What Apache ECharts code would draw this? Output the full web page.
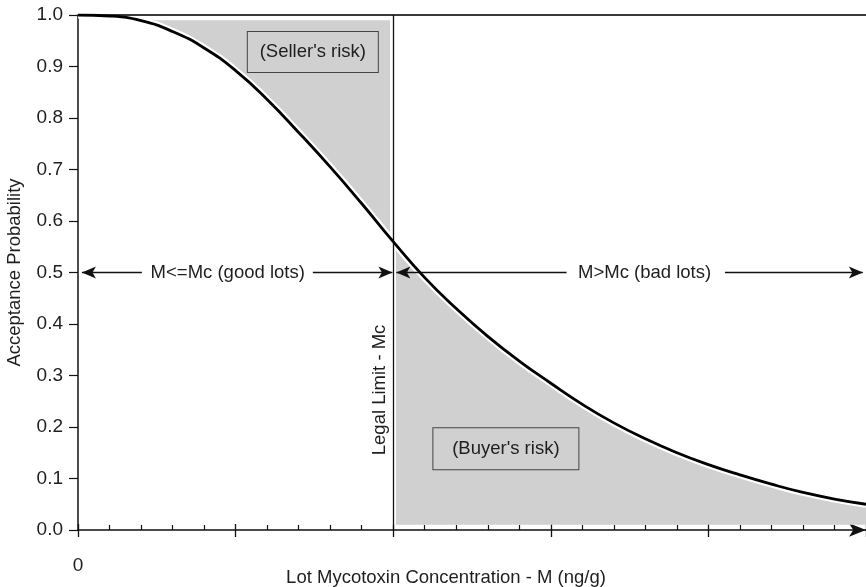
<!DOCTYPE html>
<html>
<head>
<meta charset="utf-8">
<script src="https://cdn.jsdelivr.net/npm/echarts@6/dist/echarts.min.js"></script>
<style>
html,body{margin:0;padding:0;background:#fff;}
#main{width:866px;height:587px;}
</style>
</head>
<body>
<div id="main"></div>
<script>
// ---- Data ----
const concentration = [0,4,8,12,16,20,24,28,32,36,40,44,48,52,56,60,64,68,72,76,80,84,88,92,96,100];
const acceptanceProb = [1.0,0.998,0.989,0.968,0.936,0.892,0.836,0.772,0.705,0.634,0.560,0.490,0.430,0.376,0.328,0.285,0.244,0.208,0.177,0.150,0.127,0.107,0.089,0.073,0.060,0.050];
const legalLimit = 40;
const sellerRange = [8, 40];
const buyerRange = [40, 100];
const sellerTop = 0.99;
const buyerBottom = 0.01;
const arrowLevel = 0.5;
const goodArrows = [[0.5, 8.1], [29.8, 39.9]];
const badArrows = [[40.4, 62.0], [82.1, 99.6]];
const yTickLabels = ['0.0','0.1','0.2','0.3','0.4','0.5','0.6','0.7','0.8','0.9','1.0'];
const xTickLabels = {0: '0'};
const texts = {
  good: 'M<=Mc (good lots)',
  bad: 'M>Mc (bad lots)',
  seller: "(Seller's risk)",
  buyer: "(Buyer's risk)",
  limit: 'Legal Limit - Mc',
  xName: 'Lot Mycotoxin Concentration - M (ng/g)',
  yName: 'Acceptance Probability'
};
const textPos = {good: [19.0, 0.5], bad: [71.9, 0.5], seller: [29.8, 0.928], buyer: [54.3, 0.158], limit: [38.25, 0.272]};

// ---- Build ----
const curve = concentration.map((x, i) => [x, acceptanceProb[i]]);
const sellerPts = curve.filter(p => p[0] >= sellerRange[0] && p[0] <= sellerRange[1]);
const buyerPts = curve.filter(p => p[0] >= buyerRange[0] && p[0] <= buyerRange[1]);
const FONT = "'Liberation Sans', Arial, Helvetica, sans-serif";
const TXT = '#1e1e1e';
const FILL = '#cfd0cf';
const SM = 0.5;
const FS = 18.5;

function arrowLines(segs, syms) {
  return segs.map((s, i) => [
    {coord: [s[0], arrowLevel], symbol: syms[i][0]},
    {coord: [s[1], arrowLevel], symbol: syms[i][1]}
  ]);
}
function mp(key, extra) {
  return {
    coord: textPos[key], symbol: 'rect', symbolSize: 1, itemStyle: {color: 'rgba(0,0,0,0)'},
    label: Object.assign({show: true, position: 'inside', formatter: texts[key], color: TXT, fontSize: FS, fontFamily: FONT}, extra || {})
  };
}

const chart = echarts.init(document.getElementById('main'), null, {renderer: 'canvas'});
chart.setOption({
  animation: false,
  backgroundColor: '#fff',
  grid: {left: 78, right: 0, top: 15, bottom: 57, containLabel: false, outerBoundsMode: 'none'},
  xAxis: [{
    type: 'value', min: 0, max: 100, interval: 20,
    axisLine: {show: true, lineStyle: {color: '#111', width: 1.5}, symbol: ['none', 'arrow'], symbolSize: [10, 17], symbolOffset: [0, 0]},
    axisTick: {show: true, inside: true, length: 6, lineStyle: {color: '#111', width: 1.3}},
    minorTick: {show: true, splitNumber: 5, length: 5, lineStyle: {color: '#111', width: 1.2}},
    splitLine: {show: false},
    axisLabel: {show: true, margin: 26, color: TXT, fontSize: 19, fontFamily: FONT, formatter: v => xTickLabels[v] || ''},
    name: texts.xName, nameLocation: 'middle', nameGap: 38, nameMoveOverlap: false,
    nameTextStyle: {color: TXT, fontSize: FS, fontFamily: FONT, padding: [0, 52, 0, 0]}
  }, {
    type: 'value', min: 0, max: 100, interval: 20, position: 'bottom',
    axisLine: {show: false}, axisLabel: {show: false}, splitLine: {show: false},
    axisTick: {show: true, inside: false, length: 7, lineStyle: {color: '#111', width: 1.3}}
  }],
  yAxis: {
    type: 'value', min: 0, max: 1, interval: 0.1,
    axisLine: {show: true, lineStyle: {color: '#111', width: 1.5}},
    axisTick: {show: true, length: 9, lineStyle: {color: '#111', width: 1.2}},
    splitLine: {show: false},
    axisLabel: {margin: 15, color: TXT, fontSize: 19, fontFamily: FONT, formatter: (v) => yTickLabels[Math.round(v * 10)]},
    name: texts.yName, nameLocation: 'middle', nameGap: 54, nameMoveOverlap: false,
    nameTextStyle: {color: TXT, fontSize: FS, fontFamily: FONT}
  },
  series: [
    {
      name: 'seller', type: 'line', data: sellerPts, smooth: SM, symbol: 'none', z: 1,
      lineStyle: {width: 0}, areaStyle: {color: FILL, opacity: 1, origin: sellerTop}
    },
    {
      name: 'buyer', type: 'line', data: buyerPts, smooth: SM, symbol: 'none', z: 1,
      lineStyle: {width: 0}, areaStyle: {color: FILL, opacity: 1, origin: buyerBottom}
    },
    {
      name: 'halo', type: 'line', data: curve, smooth: SM, symbol: 'none', z: 2,
      lineStyle: {color: '#fff', width: 7},
      markLine: {
        silent: true, symbol: 'none', z: 2, animation: false,
        lineStyle: {color: '#fff', width: 6, type: 'solid'}, label: {show: false},
        data: [[{coord: [legalLimit, buyerBottom]}, {coord: [legalLimit, sellerTop + 0.005]}]]
      }
    },
    {
      name: 'topline', type: 'line', data: [], z: 3,
      markLine: {
        silent: true, symbol: 'none', z: 3, animation: false, label: {show: false},
        lineStyle: {color: '#3a3a3a', width: 2, type: 'solid'},
        data: [[{coord: [0, 1]}, {coord: [100, 1]}]]
      }
    },
    {
      name: 'guides', type: 'line', data: [], z: 3,
      markLine: {
        silent: true, z: 3, animation: false, symbolSize: [9, 14],
        label: {show: false},
        lineStyle: {color: '#111', width: 1.3, type: 'solid'},
        data: [
          [{coord: [legalLimit, 0], symbol: 'none'}, {coord: [legalLimit, 1], symbol: 'none'}]
        ].concat(arrowLines(goodArrows, [['arrow','none'],['none','arrow']]))
         .concat(arrowLines(badArrows, [['arrow','none'],['none','arrow']]))
      },
      markPoint: {
        silent: true, animation: false,
        data: [
          mp('good'), mp('bad'),
          mp('seller', {backgroundColor: FILL, borderColor: '#444', borderWidth: 1, width: 130, height: 40, lineHeight: 40, align: 'center', verticalAlign: 'middle'}),
          mp('buyer', {backgroundColor: FILL, borderColor: '#444', borderWidth: 1, width: 145, height: 41, lineHeight: 41, align: 'center', verticalAlign: 'middle'}),
          mp('limit', {rotate: 90})
        ]
      }
    },
    {
      name: 'curve', type: 'line', data: curve, smooth: SM, symbol: 'none', z: 4,
      lineStyle: {color: '#000', width: 2.8}
    }
  ]
});
</script>
</body>
</html>
